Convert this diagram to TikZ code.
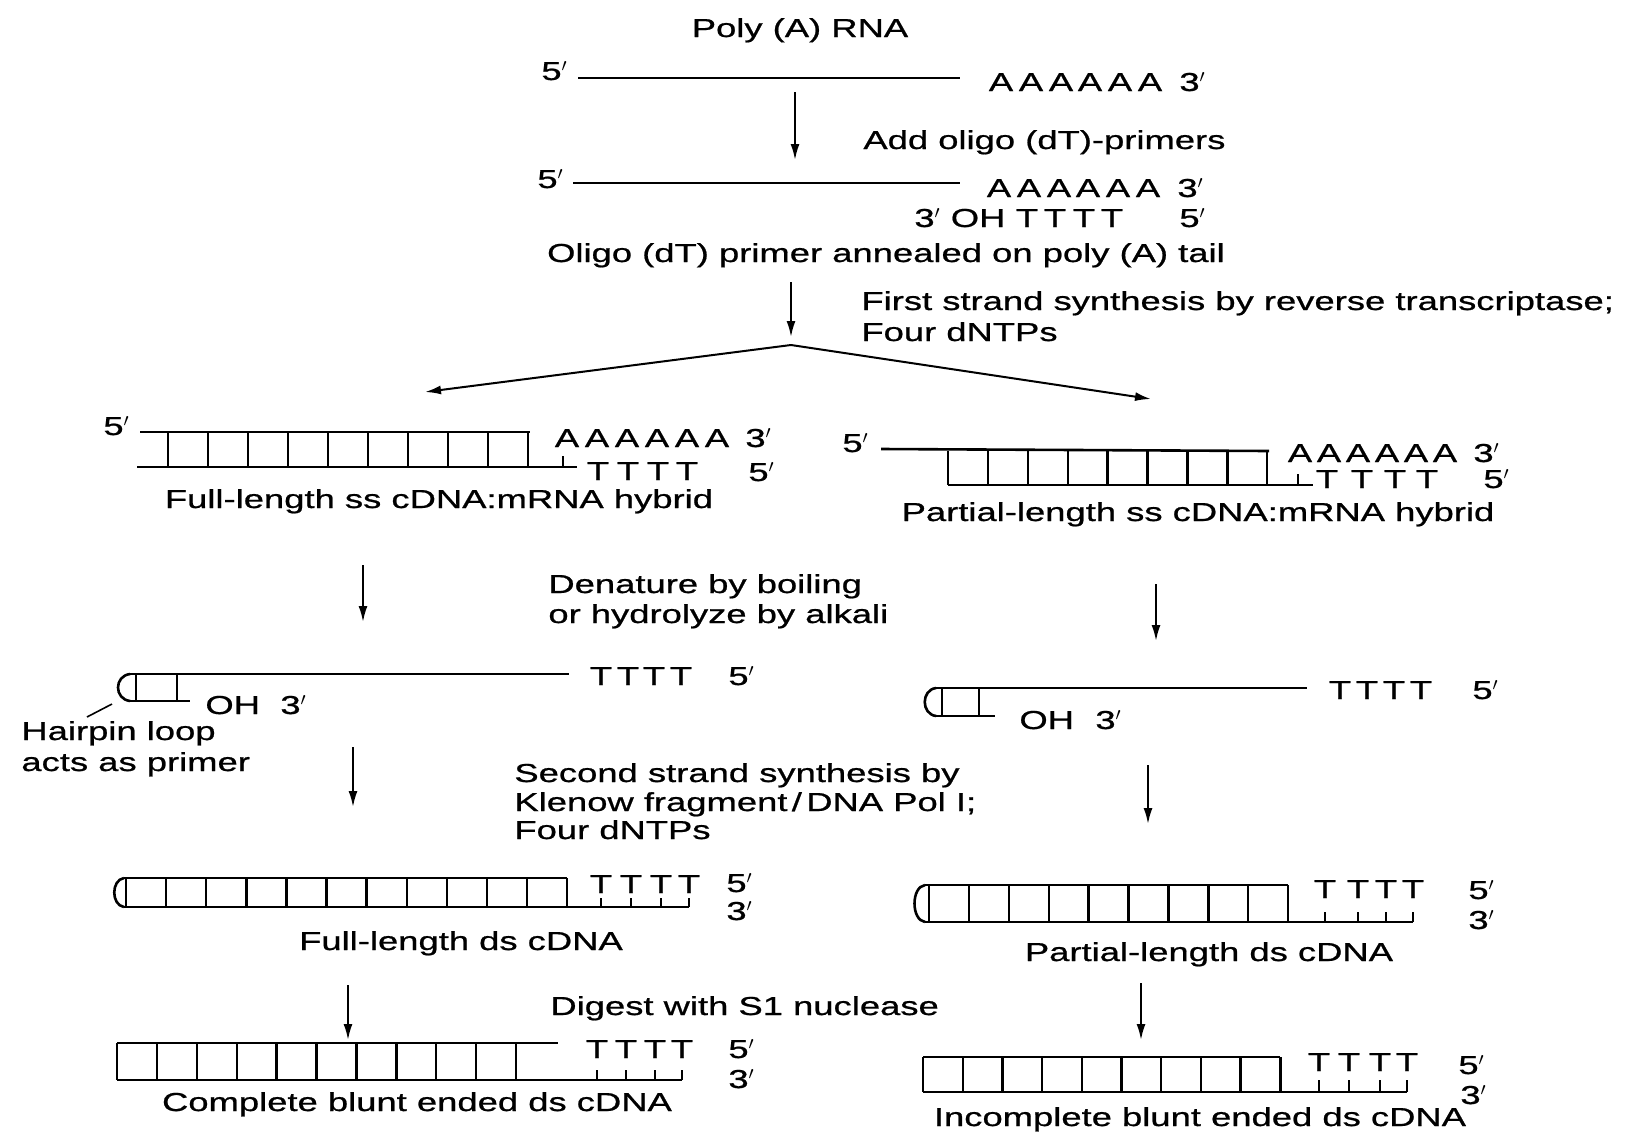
\documentclass[tikz,border=0pt]{standalone}
\usepackage{fontspec}
\setmainfont{Liberation Sans}[FakeStretch=1.4,FakeBold=0.8]
\usetikzlibrary{arrows.meta}
\newcommand{\prm}{\ensuremath{'}}
\begin{document}
\begin{tikzpicture}[x=0.5pt,y=-0.5pt,
  every node/.style={font=\fontsize{13}{15}\selectfont, inner sep=0pt},
  txt/.style={anchor=base west},
  ctr/.style={anchor=base},
  dna/.style={line width=1.3pt},
  rung/.style={line width=1.2pt},
  arr/.style={line width=1pt, -{Latex[length=8pt,width=4.5pt]}}]
\useasboundingbox (0,0) rectangle (1626,1140);
\fill[white] (0,0) rectangle (1626,1140);

% ---------- top ----------
\node[ctr] (title) at (800,37) {Poly (A) RNA};
\node[txt] (r1five) at (541,80) {5\prm};
\draw[dna] (578,78) -- (960,78);
\foreach \x [count=\k] in {1001,1031,1061,1090,1120,1150} \node[ctr] (r1a\k) at (\x,91) {A};
\node[txt] (r1three) at (1179,91) {3\prm};
\coordinate (a1s) at (795,92); \coordinate (a1e) at (795,160);
\draw[arr] (a1s) -- (a1e);
\node[txt] (step1) at (863,149) {Add oligo (dT)-primers};
\node[txt] (r2five) at (537,188) {5\prm};
\draw[dna] (573,183) -- (960,183);
\foreach \x [count=\k] in {999,1029,1059,1088,1118,1148} \node[ctr] (r2a\k) at (\x,197) {A};
\node[txt] (r2three) at (1177,197) {3\prm};
\node[txt] (r2oh) at (914,227) {3\prm\ OH};
\foreach \x [count=\k] in {1027,1055,1084,1112} \node[ctr] (r2t\k) at (\x,227) {T};
\node[txt] (r2tfive) at (1179,227) {5\prm};
\node[ctr] (oligo) at (886,262) {Oligo (dT) primer annealed on poly (A) tail};
\coordinate (a2s) at (791,282); \coordinate (a2e) at (791,337);
\draw[arr] (a2s) -- (a2e);
\node[txt] (fs1) at (861,310) {First strand synthesis by reverse transcriptase;};
\node[txt] (fs2) at (861,341) {Four dNTPs};
\coordinate (br) at (791,345); \coordinate (brl) at (425,392); \coordinate (brr) at (1151,399);
\draw[arr] (br) -- (brl);
\draw[arr] (br) -- (brr);

% ---------- full-length hybrid ----------
\node[txt] (h1five) at (103,435) {5\prm};
\draw[dna] (140,432) -- (530,432);
\foreach \i in {0,...,9} \draw[rung] ({168+\i*40},432) -- ({168+\i*40},467);
\draw[dna] (137,467) -- (577,467);
\draw[rung] (563,456) -- (563,467);
\foreach \x [count=\k] in {567,597,627,657,687,717} \node[ctr] (h1a\k) at (\x,447) {A};
\node[txt] (h1three) at (745,447) {3\prm};
\foreach \x [count=\k] in {598,628,658,687} \node[ctr] (h1t\k) at (\x,480) {T};
\node[txt] (h1tfive) at (748,481) {5\prm};
\node[ctr] (h1lab) at (439,508) {Full-length ss cDNA:mRNA hybrid};

% ---------- partial-length hybrid ----------
\node[txt] (h2five) at (842,452) {5\prm};
\draw[dna] (881,449) -- (1269,451);
\foreach \i in {0,...,8} \draw[rung] ({948+\i*39.9},451) -- ({948+\i*39.9},485);
\draw[dna] (948,485) -- (1313,485);
\draw[rung] (1298,474) -- (1298,485);
\foreach \x [count=\k] in {1300,1329,1358,1387,1416,1445} \node[ctr] (h2a\k) at (\x,462) {A};
\node[txt] (h2three) at (1473,462) {3\prm};
\foreach \x [count=\k] in {1327,1362,1395,1427} \node[ctr] (h2t\k) at (\x,488) {T};
\node[txt] (h2tfive) at (1483,488) {5\prm};
\node[ctr] (h2lab) at (1198,521) {Partial-length ss cDNA:mRNA hybrid};

% ---------- denature ----------
\coordinate (a3s) at (363,565); \coordinate (a3e) at (363,622);
\draw[arr] (a3s) -- (a3e);
\node[txt] (den1) at (548,593) {Denature by boiling};
\node[txt] (den2) at (548,623) {or hydrolyze by alkali};
\coordinate (a4s) at (1156,584); \coordinate (a4e) at (1156,641);
\draw[arr] (a4s) -- (a4e);

% ---------- left hairpin ----------
\draw[dna] (130,674) .. controls (114,676) and (114,699) .. (130,701);
\draw[dna] (130,674) -- (569,674);
\draw[dna] (130,701) -- (190,701);
\draw[rung] (136,674) -- (136,701);
\draw[rung] (177,674) -- (177,701);
\foreach \x [count=\k] in {601,628,654,681} \node[ctr] (p1t\k) at (\x,685) {T};
\node[txt] (p1five) at (728,685) {5\prm};
\node[txt] (p1oh) at (205,714) {OH};
\node[txt] (p1three) at (280,714) {3\prm};
\coordinate (ptr1) at (87,717); \coordinate (ptr2) at (112,704);
\draw[line width=0.8pt] (ptr1) -- (ptr2);
\node[txt] (hp1) at (21,740) {Hairpin loop};
\node[txt] (hp2) at (21,771) {acts as primer};

% ---------- right hairpin ----------
\draw[dna] (936,688) .. controls (921,690) and (921,714) .. (936,716);
\draw[dna] (936,688) -- (1307,688);
\draw[dna] (936,716) -- (995,716);
\draw[rung] (942,688) -- (942,716);
\draw[rung] (979,688) -- (979,716);
\foreach \x [count=\k] in {1340,1367,1394,1421} \node[ctr] (p2t\k) at (\x,699) {T};
\node[txt] (p2five) at (1472,699) {5\prm};
\node[txt] (p2oh) at (1019,729) {OH};
\node[txt] (p2three) at (1095,729) {3\prm};

% ---------- second strand ----------
\coordinate (a5s) at (353,747); \coordinate (a5e) at (353,807);
\draw[arr] (a5s) -- (a5e);
\node[txt] (ss1) at (514,782) {Second strand synthesis by};
\node[txt] (ss2) at (514,811) {Klenow fragment\,/\,DNA Pol I;};
\node[txt] (ss3) at (514,839) {Four dNTPs};
\coordinate (a6s) at (1148,765); \coordinate (a6e) at (1148,824);
\draw[arr] (a6s) -- (a6e);

% ---------- full-length ds ----------
\draw[dna] (124,878) .. controls (111,880) and (111,905) .. (124,907);
\draw[dna] (124,878) -- (567,878);
\draw[dna] (124,907) -- (689,907);
\foreach \i in {0,...,11} \draw[rung] ({126+\i*40.1},878) -- ({126+\i*40.1},907);
\foreach \x [count=\k] in {601,631,661,689} {
  \draw[rung] (\x,898) -- (\x,907);
  \node[ctr] (d1t\k) at (\x,893) {T};
}
\node[txt] (d1five) at (726,892) {5\prm};
\node[txt] (d1three) at (726,920) {3\prm};
\node[ctr] (d1lab) at (461,950) {Full-length ds cDNA};

% ---------- partial-length ds ----------
\draw[dna] (925,885) .. controls (911,887) and (911,920) .. (925,922);
\draw[dna] (925,885) -- (1288,885);
\draw[dna] (925,922) -- (1413,922);
\foreach \i in {0,...,9} \draw[rung] ({929+\i*39.9},885) -- ({929+\i*39.9},922);
\foreach \x [count=\k] in {1325,1358,1386,1413} {
  \draw[rung] (\x,912) -- (\x,922);
  \node[ctr] (d2t\k) at (\x,898) {T};
}
\node[txt] (d2five) at (1468,899) {5\prm};
\node[txt] (d2three) at (1468,929) {3\prm};
\node[ctr] (d2lab) at (1209,961) {Partial-length ds cDNA};

% ---------- S1 ----------
\coordinate (a7s) at (348,985); \coordinate (a7e) at (348,1040);
\draw[arr] (a7s) -- (a7e);
\node[txt] (dig) at (550,1015) {Digest with S1 nuclease};
\coordinate (a8s) at (1141,983); \coordinate (a8e) at (1141,1040);
\draw[arr] (a8s) -- (a8e);

% ---------- complete blunt ----------
\draw[dna] (117,1043) -- (558,1043);
\draw[dna] (117,1080) -- (682,1080);
\foreach \i in {0,...,10} \draw[rung] ({117+\i*39.9},1043) -- ({117+\i*39.9},1080);
\foreach \x [count=\k] in {597,626,655,682} {
  \draw[rung] (\x,1070) -- (\x,1080);
  \node[ctr] (b1t\k) at (\x,1058) {T};
}
\node[txt] (b1five) at (728,1058) {5\prm};
\node[txt] (b1three) at (728,1088) {3\prm};
\node[ctr] (b1lab) at (417,1111) {Complete blunt ended ds cDNA};

% ---------- incomplete blunt ----------
\draw[dna] (923,1057) -- (1280,1057);
\draw[dna] (923,1092) -- (1407,1092);
\foreach \i in {0,...,9} \draw[rung] ({923+\i*39.7},1057) -- ({923+\i*39.7},1092);
\foreach \x [count=\k] in {1319,1349,1380,1407} {
  \draw[rung] (\x,1080) -- (\x,1092);
  \node[ctr] (b2t\k) at (\x,1071) {T};
}
\node[txt] (b2five) at (1458,1074) {5\prm};
\node[txt] (b2three) at (1460,1104) {3\prm};
\node[ctr] (b2lab) at (1200,1126) {Incomplete blunt ended ds cDNA};
\end{tikzpicture}
\end{document}
